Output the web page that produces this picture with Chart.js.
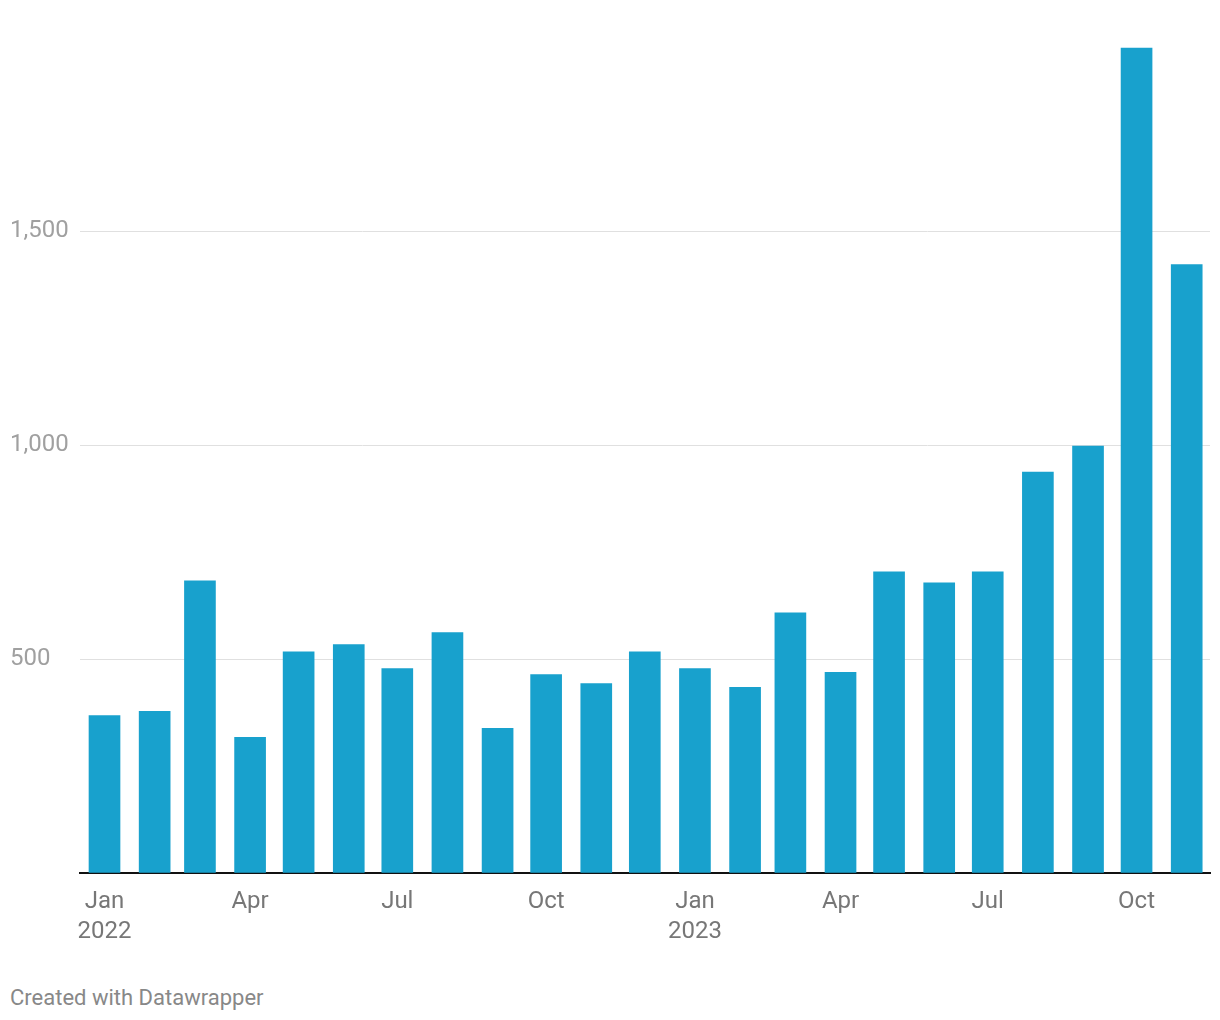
<!DOCTYPE html>
<html>
<head>
<meta charset="utf-8">
<script src="https://cdn.jsdelivr.net/npm/chart.js@4/dist/chart.umd.min.js"></script>
<style>
  html, body { margin: 0; padding: 0; background: #fff; }
  #wrap { position: relative; width: 1220px; height: 1020px; }
  #footer { position: absolute; left: 10px; top: 985px; font-family: Roboto, sans-serif; font-size: 22px; color: #888; }
</style>
</head>
<body>
<div id="wrap">
  <canvas id="c" width="1220" height="960"></canvas>
  <div id="footer">Created with Datawrapper</div>
</div>
<script>
const months = ['2022-01','2022-02','2022-03','2022-04','2022-05','2022-06','2022-07','2022-08','2022-09','2022-10','2022-11','2022-12',
                '2023-01','2023-02','2023-03','2023-04','2023-05','2023-06','2023-07','2023-08','2023-09','2023-10','2023-11'];
const values = [368, 378, 683, 317, 517, 534, 478, 562, 338, 464, 443, 517,
                478, 434, 608, 469, 704, 678, 704, 937, 998, 1928, 1422];
const tickMonths = ['2022-01','2022-04','2022-07','2022-10','2023-01','2023-04','2023-07','2023-10'];
const tickLabels = [['Jan','2022'],'Apr','Jul','Oct',['Jan','2023'],'Apr','Jul','Oct'];
const yTicks = [0, 500, 1000, 1500];

function dayOffset(m) {
  const [y, mo] = m.split('-').map(Number);
  return (Date.UTC(y, mo - 1, 1) - Date.UTC(2022, 0, 1)) / 86400000;
}
const tickDays = tickMonths.map(dayOffset);
const labelByDay = {};
tickDays.forEach((d, i) => labelByDay[d] = tickLabels[i]);

new Chart(document.getElementById('c'), {
  type: 'bar',
  data: {
    datasets: [{
      data: months.map((m, i) => ({ x: dayOffset(m), y: values[i] })),
      backgroundColor: '#18a1cd',
      barThickness: 31,
      borderWidth: 0
    }]
  },
  options: {
    responsive: false,
    animation: false,
    devicePixelRatio: 1,
    layout: { padding: { left: 10, right: 10, top: 16, bottom: 0 } },
    plugins: { legend: { display: false }, tooltip: { enabled: false } },
    scales: {
      x: {
        type: 'linear',
        min: -15.15,
        max: 683.4,
        offset: false,
        z: 1,
        grid: { display: false, drawTicks: false, offset: false },
        border: { display: true, color: '#111', width: 2 },
        afterBuildTicks: s => { s.ticks = tickDays.map(v => ({ value: v })); },
        afterFit: s => { s.height = 87; },
        ticks: {
          autoSkip: false,
          maxRotation: 0,
          padding: 14,
          color: '#777',
          font: { family: 'Roboto', size: 24, lineHeight: 1.25 },
          callback: v => labelByDay[v] !== undefined ? labelByDay[v] : ''
        }
      },
      y: {
        min: 0,
        max: 2000,
        afterBuildTicks: s => { s.ticks = yTicks.map(v => ({ value: v })); },
        afterFit: s => { s.width = 70; },
        grid: {
          drawTicks: false,
          color: ctx => ctx.tick && ctx.tick.value === 0 ? 'rgba(0,0,0,0)' : '#e0e0e0',
          lineWidth: 1
        },
        border: { display: false },
        ticks: {
          crossAlign: 'far',
          color: '#a0a0a0',
          font: { family: 'Roboto', size: 24 },
          callback: v => v === 0 ? '' : v.toLocaleString('en-US')
        }
      }
    }
  }
});
</script>
</body>
</html>
